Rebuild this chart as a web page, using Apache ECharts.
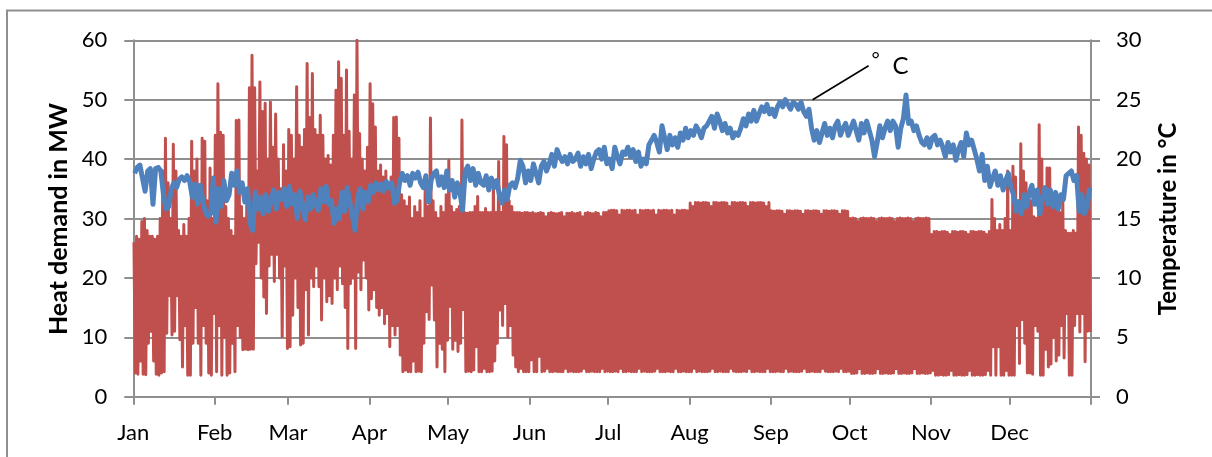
<!DOCTYPE html>
<html>
<head>
<meta charset="utf-8">
<script src="https://cdn.jsdelivr.net/npm/echarts@6/dist/echarts.min.js"></script>
<style>
  html, body { margin: 0; padding: 0; background: #fff; }
  #chart { width: 1212px; height: 457px; }
</style>
</head>
<body>
<div id="chart"></div>
<script>
// Month labels and the day-of-year on which each month starts (365-day year)
const monthNames = ['Jan', 'Feb', 'Mar', 'Apr', 'May', 'Jun', 'Jul', 'Aug', 'Sep', 'Oct', 'Nov', 'Dec'];
const monthStarts = [0, 31, 59, 90, 120, 151, 181, 212, 243, 273, 304, 334, 365];

// Left axis ticks (MW) and right axis ticks (°C)
const demandTicks = [0, 10, 20, 30, 40, 50, 60];
const tempTicks = [0, 5, 10, 15, 20, 25, 30];

// Daily peak heat demand in MW, one array per month
const maxJan = [26, 27, 26.5, 29.5, 30, 28, 27, 27, 26.5, 27, 30, 38, 43.5, 36, 30, 42.5, 38, 28, 27, 29, 27, 30, 43, 38, 40, 35, 43.5, 43, 33, 38.5, 30];
const maxFeb = [44, 52.7, 44.5, 44, 32, 30, 28, 27, 46.5, 46.6, 32, 30, 33, 52, 57.5, 52, 38, 53, 48, 49.4, 40, 49.6, 42, 47.6, 40, 35, 42.4, 38];
const maxMar = [45, 44, 40, 52.2, 44, 42, 45, 56.1, 47, 54.4, 45, 44, 47.4, 44, 40, 40.6, 39, 44, 51.6, 56.4, 53.6, 44, 55, 44.7, 40, 50.8, 60, 44.3, 40, 38, 42];
const maxApr = [52.7, 49.3, 45.4, 38, 39, 37, 38, 36, 37, 47, 47.1, 43.5, 34, 33, 32, 33.6, 30, 32, 31, 33, 30, 35.6, 32, 46.9, 33, 31, 30, 32, 31, 34];
const maxMay = [39.8, 32, 31, 31.5, 32, 46.6, 31, 30.9, 31, 31, 32, 33.7, 31, 31, 31.7, 31, 31, 36.5, 31, 39.6, 31, 43.8, 42.4, 33, 32, 31, 31, 31, 30.9, 31, 31];
const maxJun = [30.9, 31.0, 30.8, 30.9, 31.0, 30.9, 30.3, 30.9, 31.0, 30.9, 30.8, 30.9, 31.0, 30.3, 30.9, 30.9, 31.0, 30.8, 30.9, 31.0, 30.3, 30.9, 31.0, 30.9, 30.8, 31.0, 30.9, 30.3, 31.0, 31.0];
const maxJul = [31.3, 31.4, 31.4, 31.3, 30.6, 31.4, 31.3, 31.4, 31.4, 31.3, 31.4, 30.6, 31.4, 31.3, 31.4, 31.4, 31.3, 31.4, 30.6, 31.4, 31.3, 31.4, 31.4, 31.3, 31.4, 30.6, 31.4, 31.3, 31.4, 31.4, 31.3];
const maxAug = [32.6, 32.0, 32.7, 32.7, 32.6, 32.7, 32.7, 32.6, 32.0, 32.7, 32.7, 32.6, 32.7, 32.7, 32.6, 32.0, 32.7, 32.7, 32.6, 32.7, 32.7, 32.6, 32.0, 32.7, 32.7, 32.6, 32.7, 32.7, 32.6, 32.0, 32.7];
const maxSep = [31.3, 31.2, 31.3, 31.3, 31.2, 30.7, 31.3, 31.3, 31.2, 31.3, 31.3, 31.2, 30.7, 31.3, 31.3, 31.2, 31.3, 31.3, 31.2, 30.7, 31.3, 31.3, 31.2, 31.3, 31.3, 31.2, 30.7, 31.3, 31.3, 31.2];
const maxOct = [30.0, 30.1, 30.0, 29.5, 30.0, 30.1, 30.0, 30.0, 30.1, 30.0, 29.5, 30.0, 30.1, 30.0, 30.0, 30.1, 30.0, 29.5, 30.0, 30.1, 30.0, 30.0, 30.1, 30.0, 29.5, 30.0, 30.1, 30.0, 30.0, 30.1, 30.0];
const maxNov = [27.3, 27.8, 27.8, 27.7, 27.8, 27.8, 27.7, 27.3, 27.8, 27.8, 27.7, 27.8, 27.8, 27.7, 27.3, 27.8, 27.8, 27.7, 27.8, 27.8, 27.7, 27.3, 27.8, 33.2, 30.0, 28.0, 29.0, 28.0, 30.0, 38.0];
const maxDec = [28, 38.8, 37, 33, 42.6, 38, 36, 33, 33, 30.3, 30, 45.8, 40, 33, 38.5, 38.5, 32.8, 32, 33, 31, 33, 28, 27.5, 27.5, 28, 27.5, 45.4, 44, 41, 40, 39];

// Daily lowest heat demand in MW, one array per month
const minJan = [4, 3.8, 6, 3.8, 3.7, 9, 11, 6, 3.8, 3.6, 4, 4.2, 10.7, 17, 10.4, 11, 17, 9.6, 5, 12, 3.6, 3.6, 9, 15, 9, 3.6, 12, 9, 4, 3.6, 14];
const minFeb = [4.2, 12, 3.6, 10, 3.6, 4, 9, 4.2, 12, 10, 7.9, 8, 7.9, 8, 8, 22.4, 26, 20, 16.8, 14, 22, 24, 19.4, 24, 20, 10.1, 22, 8.1];
const minMar = [8.4, 13.7, 20, 15, 8.7, 9, 18, 10.4, 20, 18.5, 22, 18.5, 12.9, 20, 16, 17, 15.7, 20, 18, 22, 19, 15, 8.1, 19, 20, 8.1, 21, 18, 23, 20, 14.6];
const minApr = [16.5, 18, 15, 13.7, 15, 12.3, 14, 8.4, 12, 10.4, 12, 7, 4.2, 4.5, 4.2, 4.2, 6, 4.2, 4.3, 4.2, 9, 14.3, 13, 18.8, 12.9, 5, 9, 8, 4.2, 9.5];
const minMay = [15.2, 8, 9.5, 7.6, 9, 14.7, 4.2, 4.3, 4.2, 4.5, 8.4, 4.2, 4.2, 4.8, 4.2, 4.2, 4.3, 6, 9, 14.6, 12, 15.7, 10, 12, 7, 5, 4.2, 4.8, 4.2, 4.2, 4.2];
const minJun = [6.2, 4.2, 4.2, 6.8, 4.2, 4.3, 4.8, 4.2, 4.2, 4.3, 4.2, 4.2, 4.2, 4.8, 4.2, 4.3, 4.2, 4.2, 4.2, 4.3, 4.8, 4.2, 4.2, 4.3, 4.2, 4.2, 4.2, 4.8, 4.2, 4.3];
const minJul = [4.2, 4.2, 4.3, 4.2, 4.8, 4.2, 4.2, 4.3, 4.2, 4.2, 4.2, 4.8, 4.2, 4.3, 4.2, 4.2, 4.2, 4.3, 4.8, 4.2, 4.2, 4.2, 4.3, 4.2, 4.2, 4.8, 4.2, 4.2, 4.3, 4.2, 4.2];
const minAug = [4.2, 4.8, 4.2, 4.3, 4.2, 4.2, 4.2, 4.3, 4.8, 4.2, 4.2, 4.3, 4.2, 4.2, 4.2, 4.8, 4.3, 4.2, 4.2, 4.2, 4.3, 4.2, 4.8, 4.2, 4.2, 4.3, 4.2, 4.2, 4.2, 4.8, 4.2];
const minSep = [4.2, 4.2, 4.3, 4.2, 4.2, 4.8, 4.2, 4.3, 4.2, 4.2, 4.2, 4.3, 4.8, 4.2, 4.2, 4.3, 4.2, 4.2, 4.2, 4.8, 4.3, 4.2, 4.2, 4.2, 4.3, 4.2, 4.8, 4.2, 4.2, 4.3];
const minOct = [3.9, 3.9, 4.0, 4.7, 3.9, 3.9, 4.0, 3.9, 3.9, 4.0, 4.7, 3.9, 3.9, 4.0, 3.9, 3.9, 4.0, 4.7, 3.9, 3.9, 4.0, 3.9, 3.9, 4.0, 4.7, 3.9, 3.9, 4.0, 3.9, 3.9, 4.0];
const minNov = [4.4, 3.6, 3.6, 3.7, 3.6, 3.6, 3.7, 4.4, 3.6, 3.6, 3.7, 3.6, 3.6, 3.7, 4.4, 3.6, 3.6, 3.7, 3.6, 3.6, 3.7, 4.4, 3.6, 8.4, 3.6, 8.4, 3.6, 3.6, 4.4, 3.6];
const minDec = [3.6, 3.6, 12, 5.6, 13, 9, 4, 4, 3.8, 12, 11, 3.6, 3.6, 8, 5, 5.5, 10, 6, 7, 12, 6.5, 14, 3.6, 3.6, 12, 14, 10.9, 14, 5.9, 11, 10.9];

// Daily mean outdoor temperature in °C, one array per month
const tempJan = [18.8, 19.3, 19.5, 18.4, 17.3, 19.0, 19.2, 16.2, 19.2, 19.3, 19.0, 17.0, 15.8, 16.0, 17.5, 18.0, 17.6, 18.3, 18.5, 18.2, 18.6, 18.1, 16.8, 17.9, 16.2, 17.8, 16.5, 15.5, 15.2, 15.4, 18.4];
const tempFeb = [14.7, 17.5, 16.0, 18.2, 16.5, 17.0, 18.8, 17.8, 19.0, 17.2, 18.0, 16.4, 17.5, 14.6, 14.0, 17.2, 15.8, 16.8, 15.4, 17.0, 15.6, 16.5, 17.4, 15.8, 17.2, 16.6, 17.5, 16.0];
const tempMar = [17.7, 16.2, 17.0, 15.0, 17.3, 16.0, 14.9, 16.8, 15.8, 17.0, 16.2, 15.7, 17.5, 16.4, 17.7, 16.2, 16.5, 14.6, 15.8, 15.0, 17.2, 15.6, 17.6, 16.4, 15.2, 14.0, 16.8, 17.5, 15.8, 17.2, 16.4];
const tempApr = [17.8, 17.2, 18.0, 17.4, 17.9, 17.3, 18.1, 17.6, 18.0, 16.3, 16.5, 18.0, 18.8, 18.2, 18.6, 17.8, 18.8, 18.4, 18.9, 18.0, 17.6, 18.6, 16.4, 18.2, 18.8, 19.0, 17.8, 18.5, 17.6, 19.0];
const tempMay = [17.4, 18.2, 16.8, 18.0, 17.2, 15.7, 19.0, 19.4, 18.2, 19.2, 17.8, 18.8, 18.0, 17.8, 18.6, 17.4, 18.4, 17.6, 18.2, 17.0, 16.3, 17.4, 16.6, 17.8, 18.0, 17.6, 18.4, 19.9, 19.4, 18.0, 19.0];
const tempJun = [18.2, 19.6, 18.8, 18.0, 19.4, 19.8, 19.0, 19.6, 20.4, 19.4, 20.8, 20.2, 19.8, 20.2, 19.6, 20.4, 19.8, 20.0, 20.5, 19.4, 20.2, 19.6, 20.4, 19.2, 20.0, 20.6, 20.8, 20.0, 21.0, 19.6];
const tempJul = [20.0, 19.2, 21.0, 20.2, 19.6, 20.6, 20.4, 21.0, 20.2, 20.8, 19.8, 20.6, 19.4, 20.0, 19.6, 21.2, 21.6, 22.0, 21.4, 20.6, 22.8, 21.8, 20.8, 22.0, 21.2, 21.8, 21.0, 22.2, 21.6, 22.6, 21.8];
const tempAug = [22.4, 22.0, 22.8, 22.4, 21.8, 22.6, 22.8, 23.2, 23.6, 22.6, 23.8, 23.2, 22.4, 23.0, 22.2, 22.6, 21.8, 22.2, 22.0, 22.6, 23.4, 22.8, 23.8, 23.2, 24.1, 23.2, 23.8, 24.4, 24.0, 24.6, 23.8];
const tempSep = [24.2, 23.6, 24.4, 24.8, 24.4, 25.0, 24.6, 24.2, 24.8, 24.6, 24.2, 24.8, 24.0, 23.6, 24.2, 22.6, 21.6, 22.4, 21.4, 22.2, 23.0, 22.0, 22.6, 21.8, 22.8, 23.2, 22.0, 22.6, 23.0, 22.0];
const tempOct = [22.6, 23.2, 22.4, 21.6, 23.0, 22.2, 23.2, 22.4, 21.6, 20.2, 21.4, 22.8, 21.8, 22.6, 23.2, 22.4, 23.2, 22.8, 21.0, 22.6, 23.4, 25.4, 23.0, 23.2, 22.4, 22.8, 22.0, 21.4, 21.2, 21.8, 21.0];
const tempNov = [21.8, 22.0, 21.2, 21.6, 21.0, 20.2, 21.4, 20.6, 21.2, 19.9, 20.8, 21.4, 20.2, 22.2, 21.2, 21.6, 20.8, 20.0, 19.0, 20.4, 18.2, 19.4, 17.7, 18.4, 19.0, 17.8, 18.6, 17.4, 18.2, 18.8];
const tempDec = [17.6, 17.0, 15.6, 16.4, 15.4, 17.0, 16.0, 17.2, 17.8, 16.2, 17.4, 15.4, 16.8, 17.6, 16.2, 17.4, 16.0, 17.2, 15.8, 17.0, 16.6, 18.6, 18.8, 19.0, 18.2, 18.6, 15.6, 17.0, 15.4, 16.0, 17.6];

// Callout text and the point on the temperature curve it refers to (day of year, °C)
const calloutText = ['°', 'C'];
const calloutPoint = [258.9, 25];

const demandMax = [].concat(maxJan, maxFeb, maxMar, maxApr, maxMay, maxJun, maxJul, maxAug, maxSep, maxOct, maxNov, maxDec);
const demandMin = [].concat(minJan, minFeb, minMar, minApr, minMay, minJun, minJul, minAug, minSep, minOct, minNov, minDec);
const temperature = [].concat(tempJan, tempFeb, tempMar, tempApr, tempMay, tempJun, tempJul, tempAug, tempSep, tempOct, tempNov, tempDec);

// Each day contributes its daytime peak followed by its night-time low
const demandData = [];
demandMax.forEach(function (v, d) {
  demandData.push([d + 0.25, v]);
  demandData.push([d + 0.75, demandMin[d]]);
});
const tempData = temperature.map(function (v, d) { return [d + 0.5, v]; });

const FONT = 'Lato, "Open Sans", sans-serif';
const GRAY = '#8f8f8f';

const chart = echarts.init(document.getElementById('chart'), null, { renderer: 'canvas' });

chart.setOption({
  animation: false,
  backgroundColor: '#ffffff',
  grid: { left: 133.3, right: 121, top: 40.3, bottom: 60.3, containLabel: false },
  xAxis: {
    type: 'value',
    min: monthStarts[0],
    max: monthStarts[monthStarts.length - 1],
    splitLine: { show: false },
    axisLine: { show: true, lineStyle: { color: GRAY, width: 2 } },
    axisTick: { show: true, inside: false, length: 8, customValues: monthStarts, lineStyle: { color: GRAY, width: 2 } },
    axisLabel: {
      show: true,
      customValues: monthStarts.slice(0, 12),
      formatter: function (v) { return monthNames[monthStarts.indexOf(v)]; },
      margin: 25,
      color: '#000',
      fontFamily: FONT,
      fontSize: 22
    }
  },
  yAxis: [
    {
      type: 'value',
      position: 'left',
      min: demandTicks[0],
      max: demandTicks[demandTicks.length - 1],
      interval: demandTicks[1] - demandTicks[0],
      axisLine: { show: true, lineStyle: { color: GRAY, width: 2 } },
      axisTick: { show: true, inside: false, length: 9, lineStyle: { color: GRAY, width: 2 } },
      splitLine: { show: true, lineStyle: { color: GRAY, width: 2 } },
      axisLabel: { margin: 26, color: '#000', fontFamily: FONT, fontSize: 22 }
    },
    {
      type: 'value',
      position: 'right',
      min: tempTicks[0],
      max: tempTicks[tempTicks.length - 1],
      interval: tempTicks[1] - tempTicks[0],
      axisLine: { show: true, lineStyle: { color: GRAY, width: 2 } },
      axisTick: { show: true, inside: false, length: 9, lineStyle: { color: GRAY, width: 2 } },
      splitLine: { show: false },
      axisLabel: { margin: 25, color: '#000', fontFamily: FONT, fontSize: 22 }
    }
  ],
  series: [
    {
      name: 'Heat demand',
      type: 'line',
      xAxisIndex: 0,
      yAxisIndex: 0,
      data: demandData,
      showSymbol: false,
      symbol: 'none',
      sampling: null,
      lineStyle: { color: '#C0504D', width: 3, join: 'round' },
      itemStyle: { color: '#C0504D' },
      z: 2
    },
    {
      name: 'Temperature',
      type: 'line',
      xAxisIndex: 0,
      yAxisIndex: 1,
      data: tempData,
      showSymbol: false,
      symbol: 'none',
      lineStyle: { color: '#4F81BD', width: 5, join: 'round' },
      itemStyle: { color: '#4F81BD' },
      z: 3
    }
  ]
});

// Axis titles, outer frame and the °C callout
const anchor = chart.convertToPixel({ xAxisIndex: 0, yAxisIndex: 1 }, calloutPoint);
chart.setOption({
  graphic: [
    {
      type: 'rect', silent: true, z: 0,
      shape: { x: 7, y: 10.5, width: 1300, height: 500 },
      style: { fill: 'none', stroke: GRAY, lineWidth: 2 }
    },
    {
      type: 'text', x: 59, y: 219, rotation: Math.PI / 2, z: 10,
      style: { text: 'Heat demand in MW', font: 'bold 25px ' + FONT, fill: '#000', align: 'center', verticalAlign: 'middle' }
    },
    {
      type: 'text', x: 1168, y: 219, rotation: Math.PI / 2, z: 10,
      style: { text: 'Temperature in °C', font: 'bold 24px ' + FONT, fill: '#000', align: 'center', verticalAlign: 'middle' }
    },
    {
      type: 'line', z: 10,
      shape: { x1: anchor[0], y1: anchor[1], x2: anchor[0] + 56, y2: anchor[1] - 34 },
      style: { stroke: '#000', lineWidth: 1.6 }
    },
    {
      type: 'text', x: anchor[0] + 63, y: anchor[1] - 40, z: 10,
      style: { text: calloutText[0], font: '20px ' + FONT, fill: '#000', align: 'center', verticalAlign: 'middle' }
    },
    {
      type: 'text', x: anchor[0] + 88, y: anchor[1] - 33, z: 10,
      style: { text: calloutText[1], font: '24px ' + FONT, fill: '#000', align: 'center', verticalAlign: 'middle' }
    }
  ]
});
</script>
</body>
</html>
